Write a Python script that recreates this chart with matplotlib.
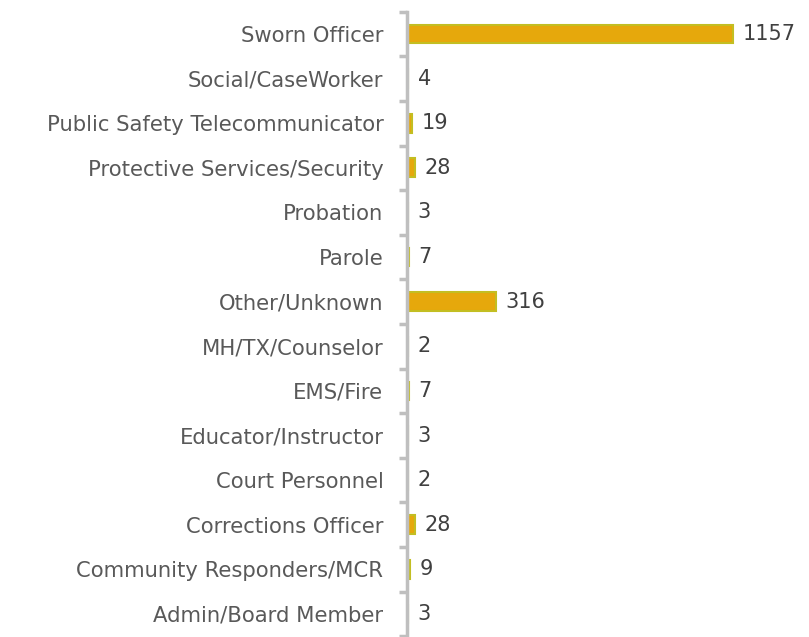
import numpy as np
import matplotlib.pyplot as plt

categories = ["Sworn Officer", "Social/CaseWorker", "Public Safety Telecommunicator",
              "Protective Services/Security", "Probation", "Parole", "Other/Unknown",
              "MH/TX/Counselor", "EMS/Fire", "Educator/Instructor", "Court Personnel",
              "Corrections Officer", "Community Responders/MCR", "Admin/Board Member"]
counts = [1157, 4, 19, 28, 3, 7, 316, 2, 7, 3, 2, 28, 9, 3]

plt.rcParams['font.family'] = ['DejaVu Sans']

fig = plt.figure(figsize=(8.09, 6.37), dpi=100)
ax = fig.add_axes([407/809, 1 - 636.3/637, 402/809, (636.3 - 11.7)/637])

y = np.arange(len(categories))
ax.barh(y, counts, height=0.42, color='#E6A80C', edgecolor='#C3BE22', linewidth=1.5)
for yi, v in zip(y, counts):
    ax.annotate(str(v), (v, yi), xytext=(7, 0), textcoords='offset points',
                va='center', ha='left', fontsize=15, color='#404040')

ax.set_xlim(0, 1157 * 402 / 326)
ax.set_ylim(len(categories) - 0.5, -0.5)
ax.set_yticks(y)
ax.set_yticklabels(categories, fontsize=15.2, color='#595959')
ax.set_yticks(np.arange(-0.5, len(categories)), minor=True)
ax.tick_params(axis='y', which='major', length=0, pad=17)
ax.tick_params(axis='y', which='minor', length=6, width=2.5, color='#BFBFBF')
ax.set_xticks([])
for s in ['top', 'right', 'bottom']:
    ax.spines[s].set_visible(False)
ax.spines['left'].set_color('#BFBFBF')
ax.spines['left'].set_linewidth(2.5)

fig.savefig('out.png', dpi=100)
